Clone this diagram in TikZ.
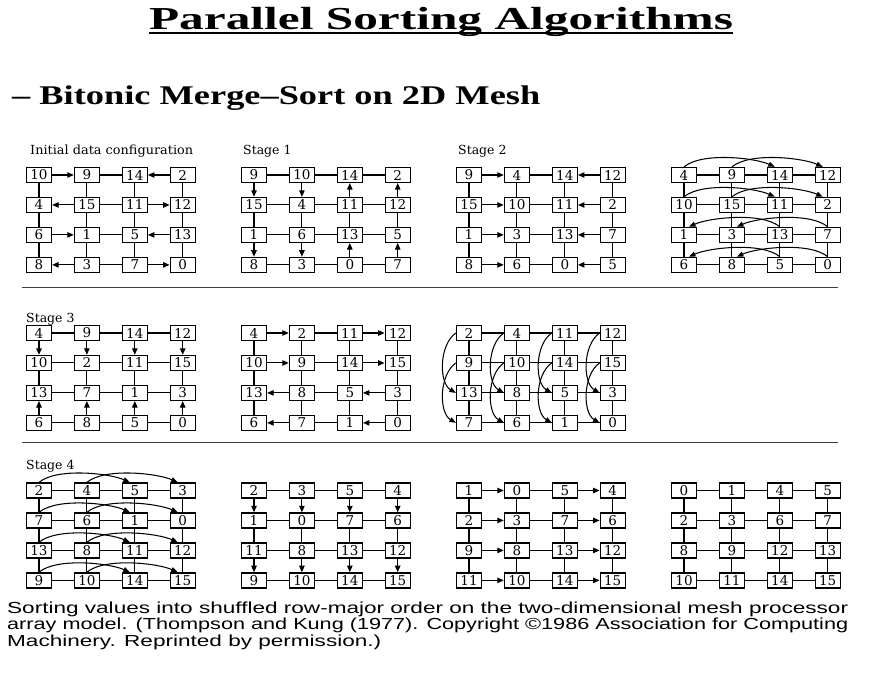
\documentclass[tikz,border=0pt]{standalone}
\usepackage{fontspec}
\usepackage{graphicx}
\setmainfont{Liberation Serif}
\newfontfamily\meshfont{DejaVu Serif}
\newfontfamily\capfont{Liberation Sans}
\usetikzlibrary{arrows.meta}

\tikzset{
  cell/.style={draw, line width=1.3pt, minimum width=25pt, minimum height=15pt,
    inner sep=0pt, font=\meshfont\fontsize{13.5}{13.5}\selectfont},
  link/.style={line width=1.05pt},
  ep/.style={link},
  ef/.style={link,-{Triangle[length=6.5pt,width=5.5pt]}},
  eb/.style={link,{Triangle[length=6.5pt,width=5.5pt]}-},
  arcarrow/.style={line width=1.05pt,-{Triangle[length=6.5pt,width=5pt]}},
  stagelabel/.style={anchor=base west, inner sep=0pt, font=\meshfont\fontsize{12.5}{12.5}\selectfont},
  sepline/.style={line width=0.9pt, black!75},
}

\newcommand\meshcells[4]{%
  \foreach \v [count=\i from 0] in {#4} {
    \pgfmathtruncatemacro\mr{div(\i,4)+1}
    \pgfmathtruncatemacro\mc{mod(\i,4)+1}
    \node[cell] (#1-\mr-\mc) at ({#2+47.9*(\mc-1)}, {#3+29.95*(\mr-1)}) {\v};
  }}

\newcommand\meshlinks[3]{%
  \foreach \s [count=\i from 0] in {#2} {
    \pgfmathtruncatemacro\mr{div(\i,3)+1}
    \pgfmathtruncatemacro\mc{mod(\i,3)+1}
    \pgfmathtruncatemacro\mn{\mc+1}
    \draw[e\s] (#1-\mr-\mc) -- (#1-\mr-\mn);
  }
  \foreach \s [count=\i from 0] in {#3} {
    \pgfmathtruncatemacro\mc{div(\i,3)+1}
    \pgfmathtruncatemacro\mr{mod(\i,3)+1}
    \pgfmathtruncatemacro\mn{\mr+1}
    \draw[e\s] (#1-\mr-\mc) -- (#1-\mn-\mc);
  }}

\newcommand\arcR[2]{\draw[arcarrow] (#1.north) .. controls +(18,-15) and +(-20,-9) .. ([xshift=-5pt]#2.north);}
\newcommand\arcL[2]{\draw[arcarrow] (#1.north) .. controls +(-18,-15) and +(20,-9) .. ([xshift=5pt]#2.north);}
\newcommand\arcV[2]{\draw[arcarrow] (#1.west) .. controls +(-17,12) and +(-17,-10) .. (#2.west);}

\newlength\capw
\newcommand\capsize{\capfont\fontsize{16}{16}\selectfont}
\newcommand\capone{Sorting values into shuffled row-major order on the two-dimensional mesh processor}

\begin{document}
\settowidth\capw{\capsize\capone}%
\pgfmathsetmacro\capsx{841/\capw}%
\begin{tikzpicture}[x=1pt,y=-1pt]
\useasboundingbox (0,0) rectangle (874,672);
\fill[white] (0,0) rectangle (874,672);

% titles
\node[anchor=base, inner sep=0pt] (title) at (441,29)
  {\resizebox{584pt}{\height}{\bfseries\fontsize{32}{32}\selectfont Parallel Sorting Algorithms}};
\draw[line width=1.8pt] (title.south west) ++(0,-3) coordinate (ul1) -- (ul1 -| title.south east);
\node[anchor=base west, inner sep=0pt] (subtitle) at (12,104)
  {\resizebox{528pt}{\height}{\bfseries\fontsize{27}{27}\selectfont -- Bitonic Merge--Sort on 2D Mesh}};

% stage labels
\node[stagelabel] (l0) at (30,154) {\resizebox{163pt}{\height}{Initial data configuration}};
\node[stagelabel] (l1) at (243,154) {Stage 1};
\node[stagelabel] (l2) at (458,154) {Stage 2};
\node[stagelabel] (l3) at (26,322) {Stage 3};
\node[stagelabel] (l4) at (26,469) {Stage 4};

% separators
\coordinate (s1a) at (22,287); \coordinate (s1b) at (838,287);
\coordinate (s2a) at (22,442); \coordinate (s2b) at (838,442);
\draw[sepline] (s1a) -- (s1b);
\draw[sepline] (s2a) -- (s2b);

% ---- top row
\meshcells{A}{39}{175}{10,9,14,2, 4,15,11,12, 6,1,5,13, 8,3,7,0}
\meshlinks{A}{f,p,b, b,p,f, f,p,b, b,p,f}{p,p,p, p,p,p, p,p,p, p,p,p}

\meshcells{B}{254}{175}{9,10,14,2, 15,4,11,12, 1,6,13,5, 8,3,0,7}
\meshlinks{B}{p,p,p, p,p,p, p,p,p, p,p,p}{f,p,f, f,p,f, b,p,b, b,p,b}

\meshcells{C}{469}{175}{9,4,14,12, 15,10,11,2, 1,3,13,7, 8,6,0,5}
\meshlinks{C}{f,p,b, f,p,b, f,p,b, f,p,b}{p,p,p, p,p,p, p,p,p, p,p,p}

\meshcells{D}{684}{175}{4,9,14,12, 10,15,11,2, 1,3,13,7, 6,8,5,0}
\meshlinks{D}{p,p,p, p,p,p, p,p,p, p,p,p}{p,p,p, p,p,p, p,p,p, p,p,p}
\arcR{D-1-1}{D-1-3} \arcR{D-1-2}{D-1-4}
\arcR{D-2-1}{D-2-3} \arcR{D-2-2}{D-2-4}
\arcL{D-3-3}{D-3-1} \arcL{D-3-4}{D-3-2}
\arcL{D-4-3}{D-4-1} \arcL{D-4-4}{D-4-2}

% ---- middle row
\meshcells{E}{39}{333}{4,9,14,12, 10,2,11,15, 13,7,1,3, 6,8,5,0}
\meshlinks{E}{p,p,p, p,p,p, p,p,p, p,p,p}{f,p,b, f,p,b, f,p,b, f,p,b}

\meshcells{F}{254}{333}{4,2,11,12, 10,9,14,15, 13,8,5,3, 6,7,1,0}
\meshlinks{F}{f,p,f, f,p,f, b,p,b, b,p,b}{p,p,p, p,p,p, p,p,p, p,p,p}

\meshcells{G}{469}{333}{2,4,11,12, 9,10,14,15, 13,8,5,3, 7,6,1,0}
\meshlinks{G}{p,p,p, p,p,p, p,p,p, p,p,p}{p,p,p, p,p,p, p,p,p, p,p,p}
\foreach \c in {1,2,3,4} {\arcV{G-1-\c}{G-3-\c} \arcV{G-2-\c}{G-4-\c}}

% ---- bottom row
\meshcells{H}{39}{490.5}{2,4,5,3, 7,6,1,0, 13,8,11,12, 9,10,14,15}
\meshlinks{H}{p,p,p, p,p,p, p,p,p, p,p,p}{p,p,p, p,p,p, p,p,p, p,p,p}
\foreach \r in {1,2,3,4} {\arcR{H-\r-1}{H-\r-3} \arcR{H-\r-2}{H-\r-4}}

\meshcells{I}{254}{490.5}{2,3,5,4, 1,0,7,6, 11,8,13,12, 9,10,14,15}
\meshlinks{I}{p,p,p, p,p,p, p,p,p, p,p,p}{f,p,f, f,p,f, f,p,f, f,p,f}

\meshcells{J}{469}{490.5}{1,0,5,4, 2,3,7,6, 9,8,13,12, 11,10,14,15}
\meshlinks{J}{f,p,f, f,p,f, f,p,f, f,p,f}{p,p,p, p,p,p, p,p,p, p,p,p}

\meshcells{K}{684}{490.5}{0,1,4,5, 2,3,6,7, 8,9,12,13, 10,11,14,15}
\meshlinks{K}{p,p,p, p,p,p, p,p,p, p,p,p}{p,p,p, p,p,p, p,p,p, p,p,p}

% caption
\node[anchor=base west, inner sep=0pt] (cap1) at (7,613)
  {\resizebox{841pt}{\height}{\capsize\capone}};
\node[anchor=base west, inner sep=0pt] (cap2) at (7,629.5)
  {\resizebox{841pt}{\height}{\capsize array model. (Thompson and Kung (1977). Copyright ©1986 Association for Computing}};
\node[anchor=base west, inner sep=0pt] (cap3) at (7,646)
  {\scalebox{\capsx}[1]{\capsize Machinery. Reprinted by permission.)}};
\end{tikzpicture}
\end{document}
